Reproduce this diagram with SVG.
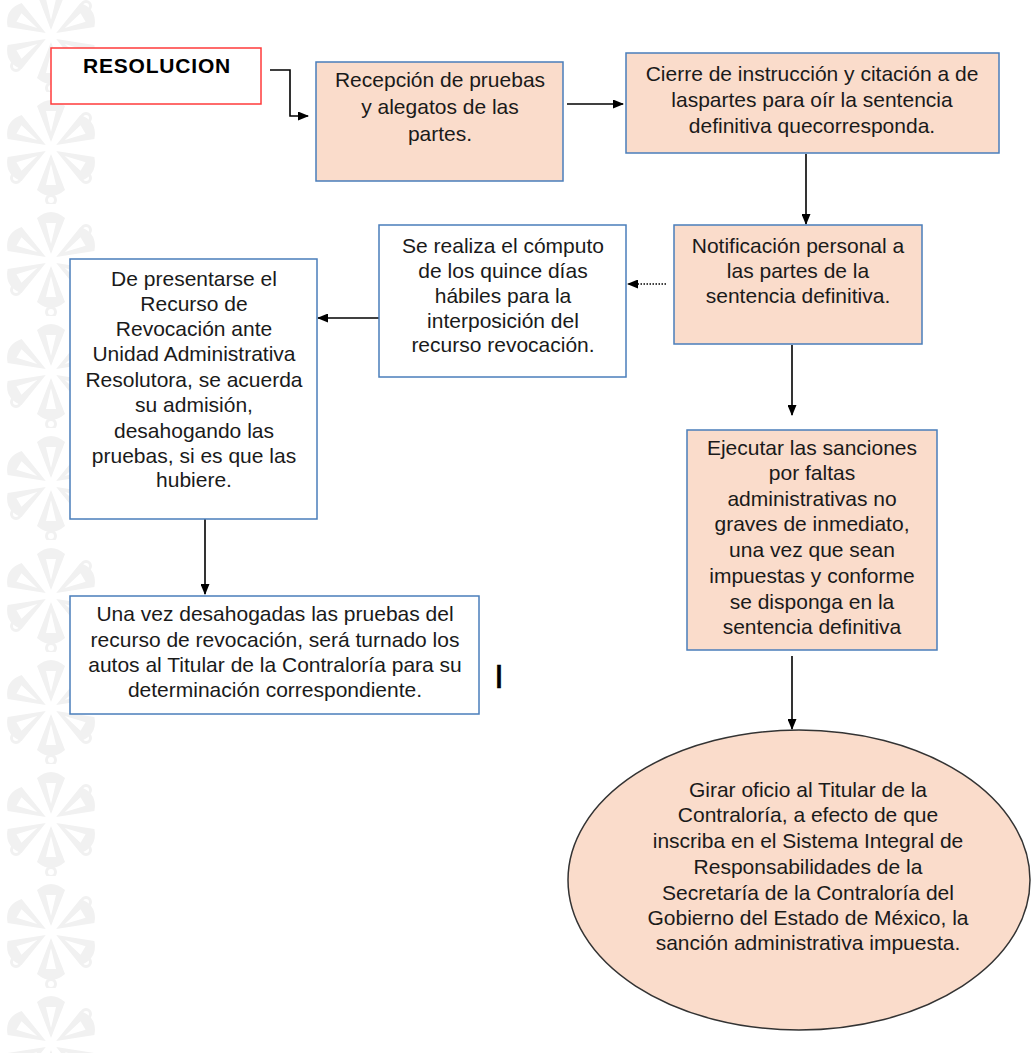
<svg xmlns="http://www.w3.org/2000/svg" width="1032" height="1053" viewBox="0 0 1032 1053">
<style>
.t{font-family:"Liberation Sans",Arial,sans-serif;font-size:21px;fill:#1a1a1a;text-anchor:middle}
.b{font-weight:bold;letter-spacing:0.8px;fill:#000}
.peach{fill:#fadccb;stroke:#4a7ebb;stroke-width:1.5}
.white{fill:#ffffff;stroke:#4a7ebb;stroke-width:1.5}
.c{fill:none;stroke:#000;stroke-width:1.6}
.bgm{fill:#f1f1f1}
</style>
<defs>
<marker id="ah" markerUnits="userSpaceOnUse" markerWidth="11" markerHeight="9" refX="10" refY="4.5" orient="auto">
<path d="M0,0 L11,4.5 L0,9 Z" fill="#000"/>
</marker>
<pattern id="bg" x="6" y="-20" width="90" height="112" patternUnits="userSpaceOnUse">
<g class="bgm" transform="translate(45,56)">
<path d="M0,-6 L-14,-42 Q0,-54 14,-42 Z M0,-16 L-5,-37 L5,-37 Z" fill-rule="evenodd"/>
<path d="M0,-6 L-14,-42 Q0,-54 14,-42 Z M0,-16 L-5,-37 L5,-37 Z" fill-rule="evenodd" transform="rotate(60)"/>
<path d="M0,-6 L-14,-42 Q0,-54 14,-42 Z M0,-16 L-5,-37 L5,-37 Z" fill-rule="evenodd" transform="rotate(120)"/>
<path d="M0,-6 L-14,-42 Q0,-54 14,-42 Z M0,-16 L-5,-37 L5,-37 Z" fill-rule="evenodd" transform="rotate(180)"/>
<path d="M0,-6 L-14,-42 Q0,-54 14,-42 Z M0,-16 L-5,-37 L5,-37 Z" fill-rule="evenodd" transform="rotate(240)"/>
<path d="M0,-6 L-14,-42 Q0,-54 14,-42 Z M0,-16 L-5,-37 L5,-37 Z" fill-rule="evenodd" transform="rotate(300)"/>
</g>
<g fill="none" stroke="#f1f1f1" stroke-width="3">
<circle cx="10" cy="86" r="4.5"/>
<circle cx="80" cy="86" r="4.5"/>
<circle cx="45" cy="108" r="4.5"/>
<circle cx="80" cy="26" r="4.5"/>
</g>
</pattern>
</defs>
<rect width="1032" height="1053" fill="#ffffff"/>
<rect x="6" y="0" width="90" height="1053" fill="url(#bg)"/>

<g id="connectors">
<path class="c" d="M270,70 H290 V116 H308" marker-end="url(#ah)"/>
<path class="c" d="M567,104 H623" marker-end="url(#ah)"/>
<path class="c" d="M806,154 V224" marker-end="url(#ah)"/>
<path class="c" d="M666,284 H628" stroke-width="1.2" stroke-dasharray="1.5,1.5" marker-end="url(#ah)"/>
<path class="c" d="M379,318 H318" marker-end="url(#ah)"/>
<path class="c" d="M205,519 V594" marker-end="url(#ah)"/>
<path class="c" d="M792,345 V415" marker-end="url(#ah)"/>
<path class="c" d="M792,656 V729" marker-end="url(#ah)"/>
</g>

<g id="resolucion">
<rect x="51" y="48" width="210" height="56" fill="#ffffff" stroke="#ff3b3b" stroke-width="1.5"/>
<text class="t b" x="157" y="73">RESOLUCION</text>
</g>

<g id="recepcion">
<rect class="peach" x="316" y="62" width="247" height="119"/>
<text class="t" x="440" y="87">Recepción de pruebas</text>
<text class="t" x="440" y="114">y alegatos de las</text>
<text class="t" x="440" y="141">partes.</text>
</g>

<g id="cierre">
<rect class="peach" x="626" y="53" width="373" height="100"/>
<text class="t" x="812" y="81">Cierre de instrucción y citación a de</text>
<text class="t" x="812" y="107">laspartes para oír la sentencia</text>
<text class="t" x="812" y="133">definitiva quecorresponda.</text>
</g>

<g id="notificacion">
<rect class="peach" x="674" y="225" width="248" height="119"/>
<text class="t" x="798" y="253">Notificación personal a</text>
<text class="t" x="798" y="278">las partes de la</text>
<text class="t" x="798" y="303">sentencia definitiva.</text>
</g>

<g id="computo">
<rect class="white" x="379" y="225" width="247" height="152"/>
<text class="t" x="503" y="253">Se realiza el cómputo</text>
<text class="t" x="503" y="278">de los quince días</text>
<text class="t" x="503" y="303">hábiles para la</text>
<text class="t" x="503" y="328">interposición del</text>
<text class="t" x="503" y="352">recurso revocación.</text>
</g>

<g id="recurso">
<rect class="white" x="70" y="259" width="247" height="260"/>
<text class="t" x="194" y="286">De presentarse el</text>
<text class="t" x="194" y="311">Recurso de</text>
<text class="t" x="194" y="336">Revocación ante</text>
<text class="t" x="194" y="361">Unidad Administrativa</text>
<text class="t" x="194" y="387">Resolutora, se acuerda</text>
<text class="t" x="194" y="412">su admisión,</text>
<text class="t" x="194" y="438">desahogando las</text>
<text class="t" x="194" y="463">pruebas, si es que las</text>
<text class="t" x="194" y="487">hubiere.</text>
</g>

<g id="desahogadas">
<rect class="white" x="70" y="596" width="409" height="118"/>
<text class="t" x="275" y="621">Una vez desahogadas las pruebas del</text>
<text class="t" x="275" y="647">recurso de revocación, será turnado los</text>
<text class="t" x="275" y="672">autos al Titular de la Contraloría para su</text>
<text class="t" x="275" y="697">determinación correspondiente.</text>
</g>

<g id="cursor">
<text x="499" y="688" style="font-family:'Liberation Sans',Arial,sans-serif;font-size:34px;fill:#000;stroke:#000;stroke-width:0.6;text-anchor:middle">I</text>
</g>

<g id="ejecutar">
<rect class="peach" x="687" y="430" width="250" height="220"/>
<text class="t" x="812" y="455">Ejecutar las sanciones</text>
<text class="t" x="812" y="480">por faltas</text>
<text class="t" x="812" y="506">administrativas no</text>
<text class="t" x="812" y="531">graves de inmediato,</text>
<text class="t" x="812" y="557">una vez que sean</text>
<text class="t" x="812" y="583">impuestas y conforme</text>
<text class="t" x="812" y="609">se disponga en la</text>
<text class="t" x="812" y="634">sentencia definitiva</text>
</g>

<g id="girar">
<ellipse cx="799" cy="880" rx="231" ry="150" fill="#fadccb" stroke="#333333" stroke-width="1.5"/>
<text class="t" x="808" y="797">Girar oficio al Titular de la</text>
<text class="t" x="808" y="822">Contraloría, a efecto de que</text>
<text class="t" x="808" y="848">inscriba en el Sistema Integral de</text>
<text class="t" x="808" y="874">Responsabilidades de la</text>
<text class="t" x="808" y="900">Secretaría de la Contraloría del</text>
<text class="t" x="808" y="925">Gobierno del Estado de México, la</text>
<text class="t" x="808" y="950">sanción administrativa impuesta.</text>
</g>
</svg>
